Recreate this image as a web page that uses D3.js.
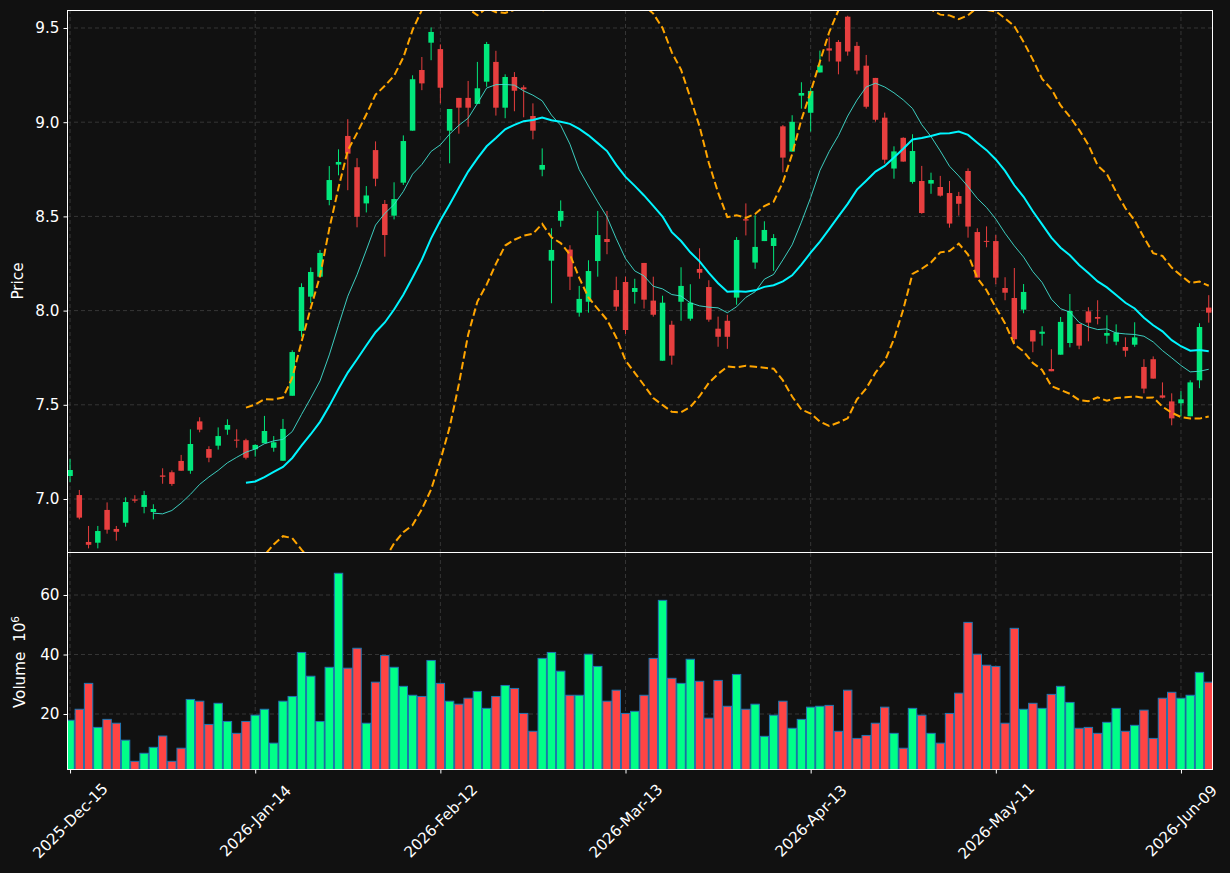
<!DOCTYPE html>
<html>
<head>
<meta charset="utf-8">
<script src="https://cdn.jsdelivr.net/npm/d3@7"></script>
<style>
  html, body { margin: 0; padding: 0; background: #111111; }
  svg { display: block; }
  text { font-family: "DejaVu Sans", sans-serif; }
</style>
</head>
<body>
<svg id="chart" width="1230" height="873"></svg>
<script>
// ---------------- DATA ----------------
const dates = [
  "2025-12-15","2025-12-16","2025-12-17","2025-12-18","2025-12-19","2025-12-22","2025-12-23","2025-12-24","2025-12-26","2025-12-29","2025-12-30","2025-12-31",
  "2026-01-02","2026-01-05","2026-01-06","2026-01-07","2026-01-08","2026-01-09","2026-01-12","2026-01-13","2026-01-14","2026-01-15","2026-01-16","2026-01-20",
  "2026-01-21","2026-01-22","2026-01-23","2026-01-26","2026-01-27","2026-01-28","2026-01-29","2026-01-30",
  "2026-02-02","2026-02-03","2026-02-04","2026-02-05","2026-02-06","2026-02-09","2026-02-10","2026-02-11","2026-02-12","2026-02-13",
  "2026-02-17","2026-02-18","2026-02-19","2026-02-20","2026-02-23","2026-02-24","2026-02-25","2026-02-26","2026-02-27",
  "2026-03-02","2026-03-03","2026-03-04","2026-03-05","2026-03-06","2026-03-09","2026-03-10","2026-03-11","2026-03-12","2026-03-13",
  "2026-03-16","2026-03-17","2026-03-18","2026-03-19","2026-03-20","2026-03-23","2026-03-24","2026-03-25","2026-03-26","2026-03-27","2026-03-30","2026-03-31",
  "2026-04-01","2026-04-02","2026-04-06","2026-04-07","2026-04-08","2026-04-09","2026-04-10","2026-04-13","2026-04-14","2026-04-15","2026-04-16","2026-04-17",
  "2026-04-20","2026-04-21","2026-04-22","2026-04-23","2026-04-24","2026-04-27","2026-04-28","2026-04-29","2026-04-30",
  "2026-05-01","2026-05-04","2026-05-05","2026-05-06","2026-05-07","2026-05-08","2026-05-11","2026-05-12","2026-05-13","2026-05-14","2026-05-15",
  "2026-05-18","2026-05-19","2026-05-20","2026-05-21","2026-05-22","2026-05-26","2026-05-27","2026-05-28","2026-05-29",
  "2026-06-01","2026-06-02","2026-06-03","2026-06-04","2026-06-05","2026-06-08","2026-06-09","2026-06-10","2026-06-11","2026-06-12"
];
const open = [
  7.122,7.021,6.772,6.768,6.942,6.841,6.874,6.998,6.958,6.931,7.125,7.142,7.202,7.150,7.412,7.265,7.283,7.368,7.315,7.312,
  7.264,7.296,7.272,7.203,7.548,7.892,8.074,8.180,8.587,8.775,8.927,8.761,8.569,8.852,8.566,8.504,8.679,8.955,9.277,9.422,
  9.388,8.955,9.129,9.129,9.097,9.215,9.320,9.077,9.240,9.185,9.033,8.748,8.265,8.477,8.324,7.989,8.047,8.263,8.380,8.109,
  8.152,8.099,8.253,8.053,7.734,7.925,8.047,7.957,8.221,8.125,7.904,7.946,8.069,8.485,8.255,8.369,8.343,8.978,8.844,9.141,
  9.050,9.264,9.392,9.426,9.560,9.405,9.300,9.235,9.024,8.754,8.917,8.683,8.688,8.674,8.656,8.624,8.608,8.741,8.417,8.370,
  8.369,8.120,8.067,8.005,7.896,7.877,7.690,7.766,7.828,7.929,7.996,7.966,7.867,7.835,7.807,7.819,7.701,7.742,7.550,7.518,
  7.508,7.439,7.630,8.016
];
const high = [
  7.212,7.048,6.857,6.857,6.982,6.857,7.009,7.020,7.043,6.972,7.163,7.152,7.234,7.370,7.434,7.280,7.380,7.423,7.370,7.320,
  7.290,7.441,7.334,7.425,7.789,8.145,8.229,8.322,8.767,8.856,9.016,8.809,8.661,8.898,8.587,8.681,8.930,9.249,9.346,9.503,
  9.413,9.070,9.129,9.219,9.320,9.426,9.379,9.254,9.266,9.196,9.100,8.861,8.437,8.585,8.347,8.131,8.267,8.529,8.529,8.180,
  8.180,8.169,8.253,8.180,8.079,7.946,8.230,8.140,8.331,8.161,7.968,7.978,8.390,8.569,8.506,8.474,8.406,8.985,9.037,9.212,
  9.182,9.380,9.451,9.436,9.565,9.426,9.357,9.235,9.051,8.872,8.920,8.936,8.768,8.732,8.715,8.688,8.630,8.755,8.437,8.447,
  8.401,8.177,8.226,8.141,7.896,7.917,7.795,7.966,8.088,7.929,8.018,8.055,7.975,7.927,7.858,7.938,7.742,7.757,7.619,7.561,
  7.572,7.630,7.933,8.082
];
const low = [
  7.090,6.892,6.738,6.738,6.816,6.779,6.853,6.980,6.924,6.892,7.081,7.070,7.150,7.134,7.354,7.195,7.262,7.341,7.272,7.210,
  7.225,7.296,7.251,7.203,7.548,7.861,8.039,8.180,8.559,8.718,8.639,8.442,8.521,8.660,8.286,8.484,8.667,8.955,9.170,9.329,
  9.100,8.782,8.939,8.976,9.097,9.188,9.035,9.021,9.058,9.026,8.909,8.713,8.039,8.445,8.109,7.968,7.989,8.180,8.299,7.999,
  7.876,8.037,8.011,7.968,7.734,7.713,7.946,7.946,8.169,7.941,7.808,7.797,8.031,8.399,8.222,8.369,8.211,8.734,8.844,9.072,
  8.950,9.264,9.322,9.254,9.353,9.254,9.072,9.003,8.780,8.700,8.790,8.674,8.514,8.620,8.605,8.440,8.504,8.387,8.175,8.336,
  8.140,8.055,7.826,7.986,7.779,7.814,7.678,7.766,7.805,7.795,7.837,7.927,7.824,7.816,7.755,7.808,7.561,7.639,7.534,7.391,
  7.439,7.439,7.588,7.936
];
const close = [
  7.154,6.901,6.757,6.830,6.837,6.826,6.984,6.991,7.021,6.947,7.118,7.080,7.150,7.292,7.368,7.219,7.334,7.393,7.312,7.219,
  7.287,7.361,7.301,7.372,7.780,8.125,8.205,8.306,8.693,8.789,8.833,8.498,8.611,8.700,8.401,8.592,8.900,9.228,9.206,9.479,
  9.183,9.070,9.077,9.077,9.180,9.415,9.077,9.240,9.167,9.175,8.955,8.773,8.322,8.529,8.180,8.062,8.210,8.401,8.364,8.021,
  7.897,8.120,8.058,7.978,8.042,7.761,8.131,8.042,8.201,7.952,7.861,7.861,8.375,8.478,8.338,8.428,8.385,8.812,9.002,9.155,
  9.166,9.301,9.380,9.322,9.375,9.274,9.082,9.013,8.801,8.845,8.791,8.847,8.518,8.693,8.610,8.462,8.567,8.446,8.175,8.365,
  8.175,8.095,7.848,8.099,7.836,7.888,7.678,7.940,7.998,7.814,7.936,7.957,7.881,7.883,7.787,7.858,7.586,7.639,7.538,7.428,
  7.529,7.619,7.913,7.989
];
const volume = [ // millions
  17.9,21.6,30.3,15.5,18.2,16.9,11.2,4.1,6.8,8.8,12.6,4.1,8.5,24.9,24.3,16.5,23.6,17.5,13.5,17.5,
  19.6,21.6,10.2,24.3,25.9,40.7,32.7,17.5,35.7,67.3,35.4,42.1,16.9,30.7,39.7,35.7,29.3,26.3,25.9,38.0,
  30.3,24.3,23.3,25.3,27.6,21.9,25.9,29.6,28.6,20.2,14.2,38.7,40.7,34.4,26.3,26.3,40.1,36.0,24.3,28.0,
  20.2,20.9,26.3,38.7,58.2,32.0,30.3,38.4,31.0,18.6,31.3,22.6,33.3,21.6,23.3,12.5,19.6,24.3,15.2,18.2,
  22.3,22.6,22.9,14.2,28.0,11.8,12.8,16.9,22.3,13.5,8.5,21.9,19.6,13.5,10.2,20.2,27.0,50.8,40.1,36.4,
  36.0,16.9,48.8,21.6,23.6,21.9,26.6,29.3,23.9,15.2,15.5,13.5,17.2,21.9,14.2,16.2,21.3,11.8,25.3,27.3,
  25.3,26.3,34.0,30.7
];
const priceTicks = [7.0, 7.5, 8.0, 8.5, 9.0, 9.5];
const volumeTicks = [20, 40, 60];
const xTickIdx = [0, 20, 40, 60, 80, 100, 120];
const mavPeriods = [10, 20];
const bbPeriod = 20, bbStd = 2;

// ---------------- DERIVED (from close) ----------------
function sma(arr, n) {
  return arr.map((_, i) => i < n - 1 ? null : d3.mean(arr.slice(i - n + 1, i + 1)));
}
function rstd(arr, n) {
  return arr.map((_, i) => i < n - 1 ? null : d3.deviation(arr.slice(i - n + 1, i + 1)));
}
const ma10 = sma(close, mavPeriods[0]);
const ma20 = sma(close, mavPeriods[1]);
const sd20 = rstd(close, bbPeriod);
const bbUpper = ma20.map((m, i) => m == null ? null : m + bbStd * sd20[i]);
const bbLower = ma20.map((m, i) => m == null ? null : m - bbStd * sd20[i]);

// ---------------- LAYOUT ----------------
const L = 67, R = 1213, PT = 10, PB = 552, VT = 553, VB = 770;
const UP = "#00ff88", DOWN = "#ff4444";
const FS = "15.2px";
const svg = d3.select("#chart");
svg.append("rect").attr("width", 1230).attr("height", 873).attr("fill", "#111111");

const n = close.length;
const x = d3.scaleLinear().domain([-0.33, 123.46]).range([L, R]);
const yP = d3.scaleLinear().domain([6.7187, 9.5955]).range([PB, PT]);
const yV = d3.scaleLinear().domain([1.18, 74.12]).range([VB, VT]);

const defs = svg.append("defs");
defs.append("clipPath").attr("id", "clipP").append("rect")
  .attr("x", L).attr("y", PT).attr("width", R - L).attr("height", PB - PT);
defs.append("clipPath").attr("id", "clipV").append("rect")
  .attr("x", L).attr("y", VT).attr("width", R - L).attr("height", VB - VT);

const gridColor = "#3a3a3a";
// grid - price
const gP = svg.append("g").attr("clip-path", "url(#clipP)");
gP.selectAll(".gy").data(priceTicks).join("line")
  .attr("x1", L).attr("x2", R).attr("y1", d => yP(d)).attr("y2", d => yP(d))
  .attr("stroke", gridColor).attr("stroke-width", 0.9).attr("stroke-dasharray", "4,3");
gP.selectAll(".gx").data(xTickIdx).join("line")
  .attr("y1", PT).attr("y2", PB).attr("x1", d => x(d)).attr("x2", d => x(d))
  .attr("stroke", gridColor).attr("stroke-width", 0.9).attr("stroke-dasharray", "4,3");
// grid - volume
const gV = svg.append("g").attr("clip-path", "url(#clipV)");
gV.selectAll(".gy").data(volumeTicks).join("line")
  .attr("x1", L).attr("x2", R).attr("y1", d => yV(d)).attr("y2", d => yV(d))
  .attr("stroke", gridColor).attr("stroke-width", 0.9).attr("stroke-dasharray", "4,3");
gV.selectAll(".gx").data(xTickIdx).join("line")
  .attr("y1", VT).attr("y2", VB).attr("x1", d => x(d)).attr("x2", d => x(d))
  .attr("stroke", gridColor).attr("stroke-width", 0.9).attr("stroke-dasharray", "4,3");

// candles
const idx = d3.range(n);
const isUp = i => close[i] >= open[i];
const cg = gP.append("g").attr("opacity", 0.9);
cg.selectAll(".wick").data(idx).join("line")
  .attr("x1", i => x(i)).attr("x2", i => x(i))
  .attr("y1", i => yP(high[i])).attr("y2", i => yP(low[i]))
  .attr("stroke", i => isUp(i) ? UP : DOWN).attr("stroke-width", 1);
const bw = 5.5;
cg.selectAll(".body").data(idx).join("rect")
  .attr("x", i => x(i) - bw / 2).attr("width", bw)
  .attr("y", i => yP(Math.max(open[i], close[i])))
  .attr("height", i => Math.max(1, Math.abs(yP(open[i]) - yP(close[i]))))
  .attr("fill", i => isUp(i) ? UP : DOWN);

// lines
const lineGen = arr => d3.line().defined(i => arr[i] != null).x(i => x(i)).y(i => yP(arr[i]))(idx);
gP.append("path").attr("d", lineGen(bbUpper)).attr("fill", "none")
  .attr("stroke", "#ffa500").attr("stroke-width", 2).attr("stroke-dasharray", "7.5,3.5");
gP.append("path").attr("d", lineGen(bbLower)).attr("fill", "none")
  .attr("stroke", "#ffa500").attr("stroke-width", 2).attr("stroke-dasharray", "7.5,3.5");
gP.append("path").attr("d", lineGen(ma10)).attr("fill", "none")
  .attr("stroke", "#40e0d0").attr("stroke-width", 1).attr("opacity", 0.9);
gP.append("path").attr("d", lineGen(ma20)).attr("fill", "none")
  .attr("stroke", "#00f5ff").attr("stroke-width", 2);

// volume bars
const vw = 8.4;
gV.selectAll(".vol").data(idx).join("rect")
  .attr("x", i => x(i) - vw / 2).attr("width", vw)
  .attr("y", i => yV(volume[i])).attr("height", i => VB - yV(volume[i]))
  .attr("fill", i => isUp(i) ? UP : DOWN)
  .attr("stroke", "#1f77b4").attr("stroke-width", 1);

// frames (crisp)
svg.append("rect").attr("x", L + 0.5).attr("y", PT + 0.5).attr("width", R - L - 1).attr("height", PB - PT)
  .attr("fill", "none").attr("stroke", "#ffffff").attr("stroke-width", 1);
svg.append("rect").attr("x", L + 0.5).attr("y", VT - 0.5).attr("width", R - L - 1).attr("height", VB - VT)
  .attr("fill", "none").attr("stroke", "#ffffff").attr("stroke-width", 1);

// axes
function styleAxis(g) {
  g.select(".domain").remove();
  g.selectAll(".tick line").attr("stroke", "#ffffff");
  g.selectAll(".tick text").attr("fill", "#ffffff")
    .style("font-family", "'DejaVu Sans', sans-serif").style("font-size", FS);
}
svg.append("g").attr("transform", `translate(${L},0)`)
  .call(d3.axisLeft(yP).tickValues(priceTicks).tickFormat(d3.format(".1f")).tickSize(3.5).tickPadding(4))
  .call(styleAxis);
svg.append("g").attr("transform", `translate(${L},0)`)
  .call(d3.axisLeft(yV).tickValues(volumeTicks).tickFormat(d3.format("d")).tickSize(3.5).tickPadding(4))
  .call(styleAxis);

const parse = d3.timeParse("%Y-%m-%d");
const fmt = d3.timeFormat("%Y-%b-%d");
const xa = svg.append("g").attr("transform", `translate(0,${VB})`)
  .call(d3.axisBottom(x).tickValues(xTickIdx).tickFormat(i => fmt(parse(dates[i]))).tickSize(3.5))
  .call(styleAxis);
xa.selectAll(".tick text")
  .attr("y", 0).attr("dy", null)
  .attr("text-anchor", "middle")
  .attr("dominant-baseline", "central")
  .attr("transform", "translate(0,51) rotate(-45)");

// axis titles
svg.append("text").attr("transform", "translate(23,281) rotate(-90)")
  .attr("text-anchor", "middle").attr("fill", "#ffffff").style("font-size", FS).text("Price");
const vt = svg.append("text").attr("transform", "translate(25,662) rotate(-90)")
  .attr("text-anchor", "middle").attr("fill", "#ffffff").style("font-size", FS)
  .attr("xml:space", "preserve");
vt.append("tspan").text("Volume\u00a0\u00a010");
vt.append("tspan").attr("dy", -6).style("font-size", "10.6px").text("6");
</script>
</body>
</html>
